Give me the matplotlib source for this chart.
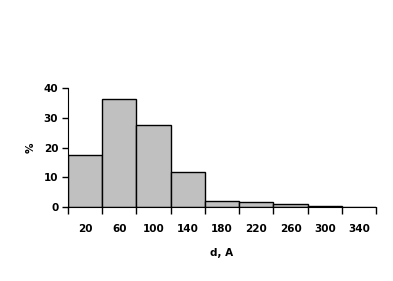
import matplotlib
matplotlib.use("Agg")
import matplotlib.pyplot as plt
import numpy as np

# histogram of d (bins of 40)
bin_edges = [0, 40, 80, 120, 160, 200, 240, 280, 320, 360]
percent = [17.6, 36.3, 27.7, 11.8, 2.1, 1.6, 1.0, 0.3, 0.0]
centre_labels = [20, 60, 100, 140, 180, 220, 260, 300, 340]

fig = plt.figure(figsize=(3.93, 2.81), dpi=100)
ax = fig.add_axes([0.173, 0.263, 0.784, 0.424])

ax.bar(bin_edges[:-1], percent, width=40, align="edge",
       color="#c0c0c0", edgecolor="black", linewidth=1)

ax.set_xlim(0, 360)
ax.set_ylim(0, 40)
ax.set_yticks([0, 10, 20, 30, 40])

# ticks on bin edges, labels at bin centres
ax.set_xticks(bin_edges)
ax.set_xticklabels([])
ax.set_xticks(centre_labels, minor=True)
ax.set_xticklabels([str(v) for v in centre_labels], minor=True)
ax.tick_params(axis="x", which="major", direction="out", length=5, width=1)
ax.tick_params(axis="x", which="minor", length=0, pad=12)
ax.tick_params(axis="y", direction="out", length=4, width=1, pad=3)

for lbl in ax.get_xticklabels(minor=True) + ax.get_yticklabels():
    lbl.set_fontsize(7.5)
    lbl.set_fontweight("bold")

ax.spines["top"].set_visible(False)
ax.spines["right"].set_visible(False)

ax.set_xlabel("d, A", fontsize=7.5, fontweight="bold", labelpad=10)
ax.set_ylabel("%", fontsize=7.5, fontweight="bold", labelpad=6)

fig.savefig("out.png", dpi=100)
